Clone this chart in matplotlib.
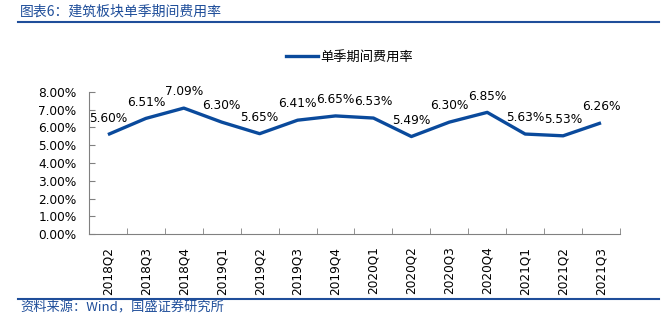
import matplotlib
matplotlib.use("Agg")
import matplotlib.pyplot as plt
from matplotlib.lines import Line2D
from matplotlib.ticker import FuncFormatter, MultipleLocator, FixedLocator
import numpy as np

plt.rcParams['font.family'] = ['DejaVu Sans', 'Noto Sans CJK SC']

quarters = ["2018Q2", "2018Q3", "2018Q4", "2019Q1", "2019Q2", "2019Q3", "2019Q4",
            "2020Q1", "2020Q2", "2020Q3", "2020Q4", "2021Q1", "2021Q2", "2021Q3"]
expense_ratio = [5.60, 6.51, 7.09, 6.30, 5.65, 6.41, 6.65, 6.53, 5.49, 6.30, 6.85, 5.63, 5.53, 6.26]
series_name = "单季期间费用率"
title_text = "图表6：建筑板块单季期间费用率"
source_text = "资料来源：Wind，国盛证券研究所"

line_color = "#0A4A9C"
head_color = "#1F4E9A"
cjk = ['Noto Sans CJK SC', 'DejaVu Sans']

fig = plt.figure(figsize=(6.66, 3.26), dpi=100)
ax = fig.add_axes([0.1336, 0.282, 0.7973, 0.436])

x = np.arange(len(quarters))
ax.plot(x, expense_ratio, color=line_color, lw=2.4, solid_capstyle='butt',
        solid_joinstyle='round')
for xi, v in zip(x, expense_ratio):
    ax.annotate(f"{v:.2f}%", (xi, v), xytext=(0, 7), textcoords='offset points',
                ha='center', va='bottom', fontsize=8.7, color='black')

ax.set_xlim(-0.5, len(quarters) - 0.5)
ax.set_ylim(0, 8)
ax.yaxis.set_major_locator(MultipleLocator(1))
ax.yaxis.set_major_formatter(FuncFormatter(lambda v, _: f"{v:.2f}%"))
ax.set_xticks(x)
ax.set_xticklabels(quarters, rotation=90, fontsize=8.7)
ax.xaxis.set_minor_locator(FixedLocator(np.arange(-0.5, len(quarters), 1.0)))
ax.tick_params(axis='x', which='major', length=0, pad=9)
ax.tick_params(axis='x', which='minor', direction='in', length=4, color='#808080')
ax.tick_params(axis='y', direction='in', length=4, color='#808080', labelsize=8.7, pad=9)
for side in ('top', 'right'):
    ax.spines[side].set_visible(False)
for side in ('left', 'bottom'):
    ax.spines[side].set_color('#808080')
    ax.spines[side].set_linewidth(0.8)

handle = Line2D([0], [0], color=line_color, lw=2.4)
fig.legend([handle], [series_name], loc='center', bbox_to_anchor=(0.525, 0.825),
           frameon=False, prop={'family': cjk, 'size': 9.5}, handlelength=2.4,
           handletextpad=0.2)

# header and footer
fig.text(0.03, 0.965, title_text, fontsize=10, color=head_color, family=cjk,
         ha='left', va='center', style='italic')
fig.add_artist(Line2D([0.027, 0.99], [0.932, 0.932], color=head_color, lw=1.5,
                      transform=fig.transFigure))
fig.add_artist(Line2D([0.027, 0.99], [0.083, 0.083], color=head_color, lw=1.5,
                      transform=fig.transFigure))
fig.text(0.03, 0.055, source_text, fontsize=9.5, color=head_color, family=cjk,
         ha='left', va='center', style='italic')

fig.savefig("out.png", dpi=100)
